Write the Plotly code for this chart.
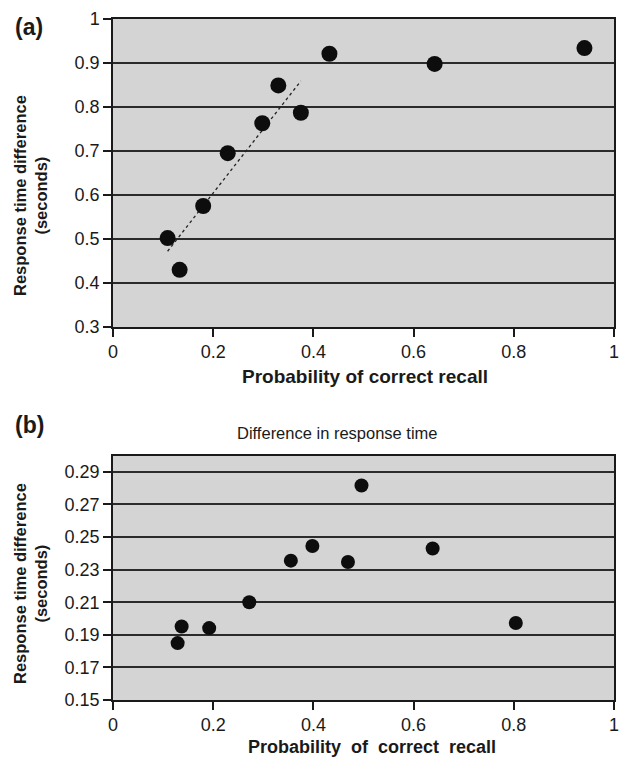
import numpy as np
import plotly.graph_objects as go

# ---- data ----
recall_a = [0.109, 0.133, 0.180, 0.229, 0.298, 0.330, 0.375, 0.432, 0.642, 0.941]
rt_a = [0.502, 0.430, 0.575, 0.695, 0.763, 0.849, 0.787, 0.921, 0.898, 0.934]

recall_b = [0.129, 0.137, 0.192, 0.272, 0.355, 0.398, 0.469, 0.496, 0.638, 0.804]
rt_b = [0.1849, 0.1951, 0.1941, 0.2100, 0.2355, 0.2445, 0.2347, 0.2816, 0.2429, 0.1972]

x_ticks = [0, 0.2, 0.4, 0.6, 0.8, 1]
x_ticktext = ["0", "0.2", "0.4", "0.6", "0.8", "1"]
ya_ticks = [0.3, 0.4, 0.5, 0.6, 0.7, 0.8, 0.9, 1.0]
ya_ticktext = ["0.3", "0.4", "0.5", "0.6", "0.7", "0.8", "0.9", "1"]
yb_ticks = [0.15, 0.17, 0.19, 0.21, 0.23, 0.25, 0.27, 0.29]
yb_ticktext = ["0.15", "0.17", "0.19", "0.21", "0.23", "0.25", "0.27", "0.29"]

# trendline on the rising part of panel (a)
fit_x = [x for x in recall_a if x < 0.4]
fit_y = [y for x, y in zip(recall_a, rt_a) if x < 0.4]
slope, intercept = np.polyfit(fit_x, fit_y, 1)
trend_x = [min(fit_x), max(fit_x)]
trend_y = [slope * v + intercept for v in trend_x]

W, H = 621, 760
FONT = "Arial, Liberation Sans, Helvetica, sans-serif"
INK = "#1a1a1a"
GRID = "#2b2b2b"

fig = go.Figure()
fig.add_trace(go.Scatter(x=trend_x, y=trend_y, mode="lines",
                         line=dict(color="#222", width=1.3, dash="dot"),
                         xaxis="x", yaxis="y", showlegend=False, hoverinfo="skip"))
fig.add_trace(go.Scatter(x=recall_a, y=rt_a, mode="markers",
                         marker=dict(color="#0d0d0d", size=16, symbol="circle"),
                         xaxis="x", yaxis="y", showlegend=False))
fig.add_trace(go.Scatter(x=recall_b, y=rt_b, mode="markers",
                         marker=dict(color="#0d0d0d", size=14, symbol="circle"),
                         xaxis="x2", yaxis="y2", showlegend=False))

xdom = [113 / W, 614 / W]
ax_common = dict(showline=True, linecolor=INK, linewidth=1.5, mirror=True,
                 ticks="outside", ticklen=8, tickwidth=1.5, tickcolor=INK,
                 tickfont=dict(family=FONT, size=18, color=INK), zeroline=False,
                 automargin=False, ticklabeloverflow="allow")

fig.update_layout(
    width=W, height=H,
    margin=dict(l=0, r=0, t=0, b=0),
    paper_bgcolor="white",
    plot_bgcolor="#d4d4d4",
    font=dict(family=FONT, color=INK),
    xaxis=dict(domain=xdom, range=[0, 1], tickvals=x_ticks, ticktext=x_ticktext,
               showgrid=False, anchor="y", **ax_common),
    yaxis=dict(domain=[1 - 327 / H, 1 - 19 / H], range=[0.3, 1.0],
               tickvals=ya_ticks, ticktext=ya_ticktext,
               showgrid=True, gridcolor=GRID, gridwidth=2, anchor="x", **ax_common),
    xaxis2=dict(domain=xdom, range=[0, 1], tickvals=x_ticks, ticktext=x_ticktext,
                showgrid=False, anchor="y2", **ax_common),
    yaxis2=dict(domain=[1 - 700 / H, 1 - 455.5 / H], range=[0.15, 0.30],
                tickvals=yb_ticks, ticktext=yb_ticktext,
                showgrid=True, gridcolor=GRID, gridwidth=2, anchor="x2", **ax_common),
)

def ann(text, x, y, size, bold=False, angle=0, xanchor="center"):
    t = f"<b>{text}</b>" if bold else text
    fig.add_annotation(text=t, x=x / W, y=1 - y / H, xref="paper", yref="paper",
                       showarrow=False, textangle=angle, xanchor=xanchor, yanchor="middle",
                       font=dict(family=FONT, size=size, color=INK))

ann("(a)", 13, 27, 23, bold=True, xanchor="left")
ann("(b)", 13, 425, 23, bold=True, xanchor="left")
ann("Difference in response time", 337, 433, 16.5)
ann("Probability of correct recall", 365, 377, 19, bold=True)
ann("Probability\u00a0\u00a0of\u00a0\u00a0correct\u00a0\u00a0recall", 372, 747, 18, bold=True)
ann("Response time difference<br>(seconds)", 30, 196, 16.5, bold=True, angle=-90)
ann("Response time difference<br>(seconds)", 30, 584, 16.5, bold=True, angle=-90)

fig.write_html("out.html", config={"displayModeBar": False},
               post_script="document.body.style.margin='0';document.body.style.overflow='hidden';")
